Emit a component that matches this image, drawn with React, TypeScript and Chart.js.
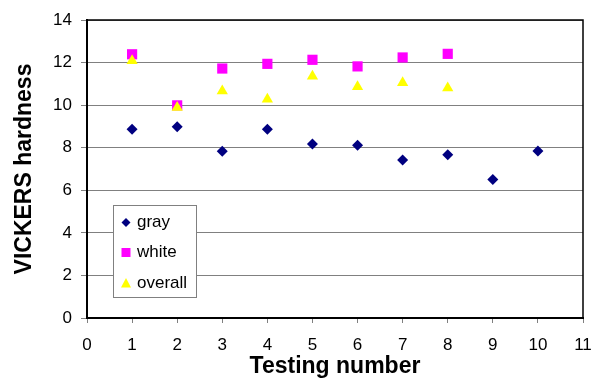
import React, { useEffect, useRef } from "react";
import { Chart, registerables } from "chart.js";

Chart.register(...registerables);

const testNumbers = [1, 2, 3, 4, 5, 6, 7, 8, 9, 10];
const grayValues = [8.87, 8.98, 7.83, 8.87, 8.17, 8.11, 7.42, 7.67, 6.51, 7.84];
const whiteValues = [12.39, 9.99, 11.72, 11.94, 12.13, 11.82, 12.24, 12.41];
const overallValues = [12.08, 9.89, 10.67, 10.28, 11.36, 10.86, 11.05, 10.8];
const seriesLabels = ["gray", "white", "overall"];
const xTitle = "Testing number";
const yTitle = "VICKERS hardness";

const FONT = "'Liberation Sans', Arial, sans-serif";

function toPoints(vals: number[]) {
  return vals.map((v, i) => ({ x: testNumbers[i], y: v }));
}

const frameAndLegend = {
  id: "frameAndLegend",
  afterDraw(chart: any) {
    const { ctx, chartArea } = chart;
    ctx.save();
    ctx.strokeStyle = "#000";
    ctx.lineWidth = 1.5;
    ctx.beginPath();
    ctx.moveTo(chartArea.left, chartArea.top);
    ctx.lineTo(chartArea.right, chartArea.top);
    ctx.lineTo(chartArea.right, chartArea.bottom);
    ctx.stroke();

    const bx = 113.5, by = 205.5, bw = 83, bh = 92;
    ctx.fillStyle = "#fff";
    ctx.fillRect(bx, by, bw, bh);
    ctx.strokeStyle = "#808080";
    ctx.lineWidth = 1;
    ctx.strokeRect(bx, by, bw, bh);

    const rows = [222.5, 252.5, 283];
    chart.data.datasets.forEach((ds: any, i: number) => {
      const cx = 126, cy = rows[i];
      ctx.fillStyle = ds.backgroundColor;
      ctx.beginPath();
      if (ds.pointStyle === "rectRot") {
        const r = 4.5;
        ctx.moveTo(cx, cy - r);
        ctx.lineTo(cx + r, cy);
        ctx.lineTo(cx, cy + r);
        ctx.lineTo(cx - r, cy);
        ctx.closePath();
      } else if (ds.pointStyle === "rect") {
        ctx.rect(cx - 4.5, cy - 4.5, 9, 9);
      } else {
        ctx.moveTo(cx, cy - 5);
        ctx.lineTo(cx + 5, cy + 4.5);
        ctx.lineTo(cx - 5, cy + 4.5);
        ctx.closePath();
      }
      ctx.fill();
      ctx.fillStyle = "#000";
      ctx.font = `17px ${FONT}`;
      ctx.textBaseline = "middle";
      ctx.textAlign = "left";
      ctx.fillText(ds.label, 137, cy);
    });
    ctx.restore();
  },
};

export default function App() {
  const ref = useRef<HTMLCanvasElement>(null);
  useEffect(() => {
    if (!ref.current) return;
    const chart = new Chart(ref.current, {
      type: "scatter",
      data: {
        datasets: [
          {
            label: seriesLabels[0],
            data: toPoints(grayValues),
            pointStyle: "rectRot",
            pointRadius: 5.5,
            backgroundColor: "#000080",
            borderColor: "#000080",
            borderWidth: 0,
            order: 2,
          },
          {
            label: seriesLabels[1],
            data: toPoints(whiteValues),
            pointStyle: "rect",
            pointRadius: 7.2,
            backgroundColor: "#FF00FF",
            borderColor: "#FF00FF",
            borderWidth: 0,
            order: 1,
          },
          {
            label: seriesLabels[2],
            data: toPoints(overallValues),
            pointStyle: "triangle",
            pointRadius: 6.5,
            backgroundColor: "#FFFF00",
            borderColor: "#FFFF00",
            borderWidth: 0,
            order: 0,
          },
        ] as any,
      },
      options: {
        animation: false,
        responsive: false,
        layout: { padding: { top: 20, right: 22, left: 0, bottom: 0 } },
        plugins: { legend: { display: false }, tooltip: { enabled: false } },
        scales: {
          x: {
            type: "linear",
            min: 0,
            max: 11,
            afterFit: (s: any) => {
              s.height = 64;
            },
            ticks: {
              stepSize: 1,
              color: "#000",
              font: { family: FONT, size: 17 },
              padding: 12,
              maxRotation: 0,
            },
            grid: {
              drawOnChartArea: false,
              drawTicks: true,
              tickLength: 5,
              color: "#808080",
            },
            border: { color: "#000", width: 2 },
            title: {
              display: true,
              text: xTitle,
              color: "#000",
              font: { family: FONT, size: 23, weight: "bold" },
              padding: { top: 0, bottom: 2 },
            },
          },
          y: {
            min: 0,
            max: 14,
            afterFit: (s: any) => {
              s.width = 87;
            },
            ticks: {
              stepSize: 2,
              color: "#000",
              font: { family: FONT, size: 17 },
              padding: 9,
            },
            grid: {
              color: "#808080",
              drawTicks: true,
              tickLength: 6,
            },
            border: { color: "#000", width: 2 },
            title: {
              display: true,
              text: yTitle,
              color: "#000",
              font: { family: FONT, size: 23, weight: "bold" },
              padding: { top: 11, bottom: 0 },
            },
          },
        },
      } as any,
      plugins: [frameAndLegend],
    });
    return () => chart.destroy();
  }, []);
  return (
    <div style={{ position: "fixed", left: 0, top: 0, width: 605, height: 382, background: "#fff" }}>
      <canvas ref={ref} width={605} height={382} style={{ width: 605, height: 382, display: "block" }} />
    </div>
  );
}
